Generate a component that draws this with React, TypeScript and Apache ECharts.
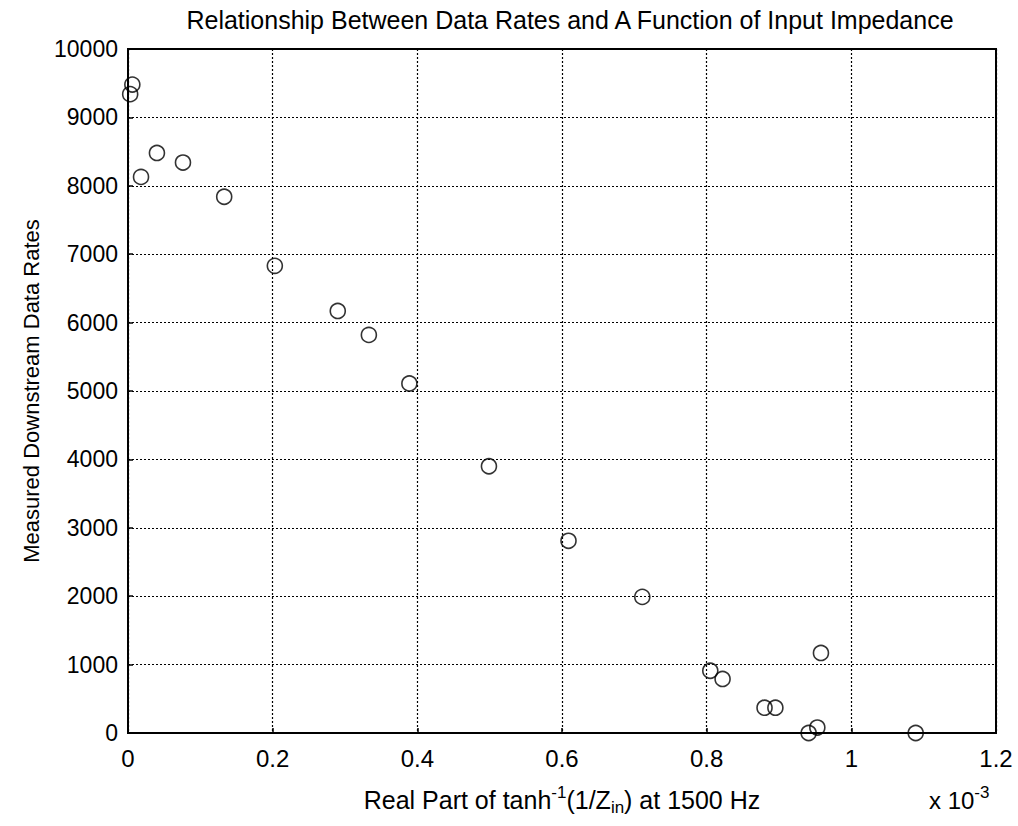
import React, { useEffect, useRef } from "react";
import * as echarts from "echarts";

// x values in units of 1e-3
const xValues: number[] = [
  0.003, 0.006, 0.018, 0.04, 0.076, 0.133, 0.203, 0.29, 0.333, 0.389, 0.499,
  0.609, 0.711, 0.805, 0.822, 0.88, 0.895, 0.941, 0.953, 0.958, 1.089,
];
const yValues: number[] = [
  9340, 9480, 8130, 8480, 8340, 7840, 6830, 6170, 5820, 5110, 3900, 2810,
  1990, 910, 790, 370, 370, 0, 80, 1170, 0,
];
const titleText = "Relationship Between Data Rates and A Function of Input Impedance";
const yAxisName = "Measured Downstream Data Rates";
const xAxisName = "Real Part of tanh{sup|-1}(1/Z{sub|in}) at 1500 Hz";
const exponentText = "x 10{sup|-3}";

const FONT = "'Liberation Sans', Arial, Helvetica, sans-serif";

export default function App() {
  const ref = useRef<HTMLDivElement>(null);
  useEffect(() => {
    if (!ref.current) return;
    const chart = echarts.init(ref.current, undefined, { renderer: "svg" });
    const points = xValues.map((x, i) => [x, yValues[i]]);
    const supSub = {
      sup: { fontSize: 17, verticalAlign: "top", lineHeight: 14, fontFamily: FONT, color: "#000" },
      sub: { fontSize: 17, verticalAlign: "bottom", lineHeight: 14, fontFamily: FONT, color: "#000" },
    };
    chart.setOption({
      animation: false,
      backgroundColor: "#fff",
      textStyle: { fontFamily: FONT, color: "#000" },
      title: {
        text: titleText,
        left: 565,
        top: 2,
        textAlign: "center",
        textStyle: { fontFamily: FONT, fontSize: 25, fontWeight: "normal", color: "#000" },
      },
      grid: {
        left: 128,
        right: 22,
        top: 49,
        bottom: 93,
        show: true,
        borderColor: "#000",
        borderWidth: 2,
        backgroundColor: "transparent",
      },
      xAxis: {
        type: "value",
        min: 0,
        max: 1.2,
        interval: 0.2,
        name: xAxisName,
        nameLocation: "middle",
        nameGap: 51,
        nameTextStyle: {
          fontFamily: FONT,
          fontSize: 25,
          color: "#000",
          lineHeight: 32,
          rich: supSub,
        },
        axisLine: { show: true, lineStyle: { color: "#000", width: 2 } },
        axisTick: { show: true, inside: true, length: 5, lineStyle: { color: "#000", width: 1.5 } },
        axisLabel: {
          fontFamily: FONT,
          fontSize: 24,
          color: "#000",
          margin: 13,
          formatter: (v: number) => String(parseFloat(v.toFixed(1))),
        },
        splitLine: { show: true, lineStyle: { color: "#000", type: [2, 2], width: 1.2 } },
      },
      yAxis: {
        type: "value",
        min: 0,
        max: 10000,
        interval: 1000,
        name: yAxisName,
        nameLocation: "middle",
        nameGap: 86,
        nameTextStyle: { fontFamily: FONT, fontSize: 22, color: "#000" },
        axisLine: { show: true, lineStyle: { color: "#000", width: 2 } },
        axisTick: { show: true, inside: true, length: 5, lineStyle: { color: "#000", width: 1.5 } },
        axisLabel: {
          fontFamily: FONT,
          fontSize: 23,
          color: "#000",
          margin: 10,
          formatter: (v: number) => String(v),
        },
        splitLine: { show: true, lineStyle: { color: "#000", type: [2, 2], width: 1.2 } },
      },
      graphic: [
        {
          type: "text",
          left: 929,
          top: 784,
          style: {
            text: exponentText,
            font: `24px ${FONT}`,
            fill: "#000",
            lineHeight: 32,
            rich: supSub,
          },
        },
      ],
      series: [
        {
          type: "scatter",
          data: points,
          symbol: "circle",
          symbolSize: 15,
          itemStyle: { color: "transparent", borderColor: "#000", borderWidth: 1.6 },
          emphasis: { disabled: true },
        },
      ],
    });
    return () => chart.dispose();
  }, []);
  return (
    <div
      ref={ref}
      style={{ position: "absolute", left: 0, top: 0, width: 1018, height: 826 }}
    />
  );
}
